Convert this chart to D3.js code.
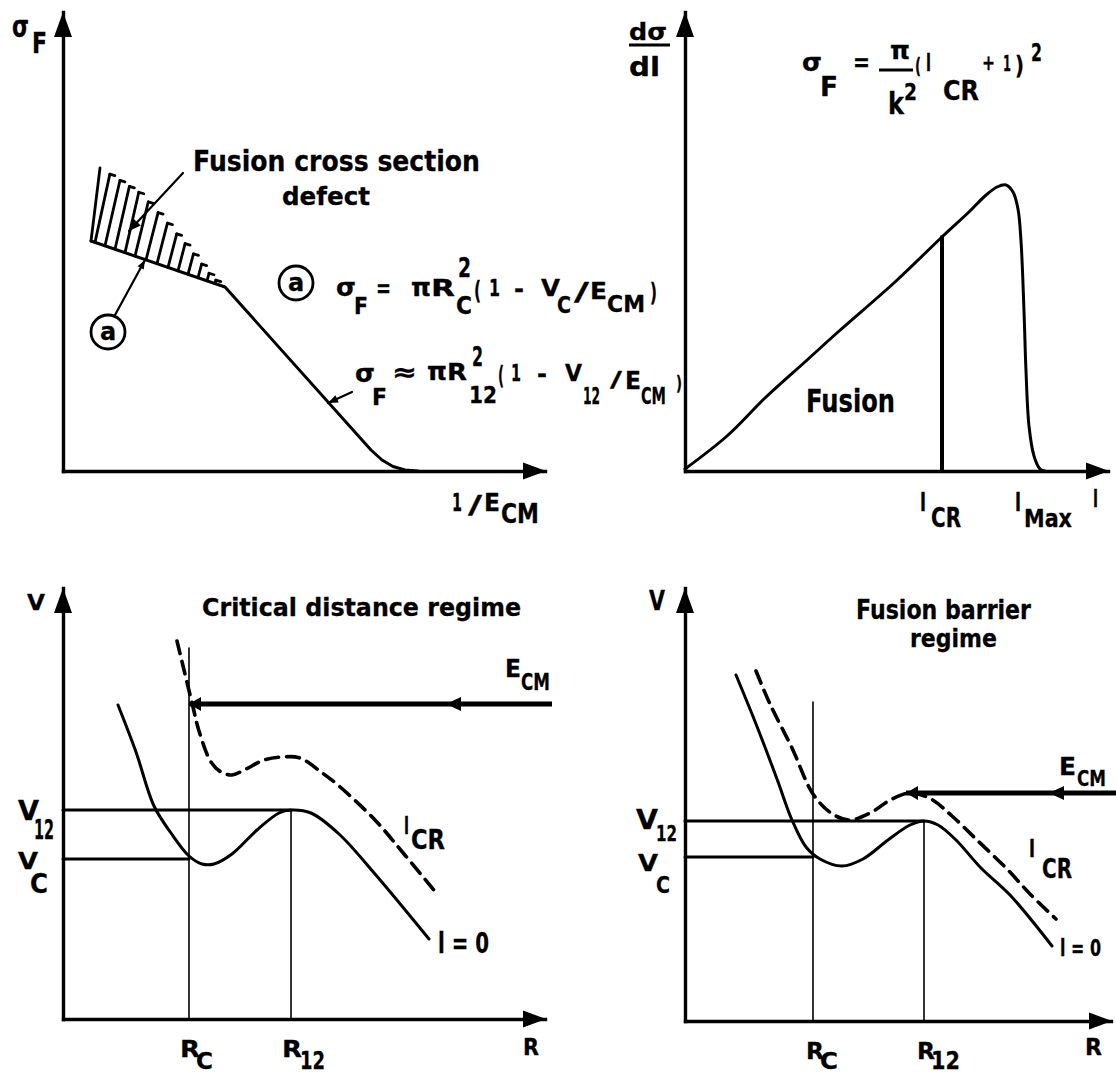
<!DOCTYPE html>
<html><head><meta charset="utf-8">
<script src="https://cdn.jsdelivr.net/npm/d3@7"></script>
<style>
body{margin:0;background:#fff}
text{font-family:"DejaVu Sans",sans-serif;font-weight:bold;fill:#000;stroke:#000;stroke-width:0.3px;stroke-linejoin:round}
</style>
</head><body>
<svg id="c" width="1116" height="1074"></svg>
<script>
// ---- Fusion cross section vs 1/E_CM (units: 10 px) ----
const sigmaF = [[2.8,23.0],[16.2,18.4],[30.8,2.1],[31.9,1.1],[33.0,0.45],[34.2,0.1],[35.5,0]];
const defectTop = [[3.7,30.3],[7.7,27.8],[10.0,25.3],[12.5,22.4],[14.9,19.4],[15.9,18.6]];
const hatchAt = [3.2,4.2,5.2,6.2,7.2,8.3,9.4,10.5,11.5,12.5,13.5,14.4,15.2];

// ---- Partial-wave distribution dσ/dl ----
const dsdl = [[0,0.2],[4.2,3.5],[8.0,7.3],[12.1,11.0],[15.3,13.9],[21.0,18.9],[25.8,23.5],[28.5,26.0],[30.0,27.5],[31.2,28.4],[32.1,28.6],[32.8,27.9],[33.3,26.2],[33.6,23.0],[33.9,16.0],[34.1,10.0],[34.4,4.5],[34.9,1.5],[35.5,0.2],[36.0,0]];
const lCritical = 25.7;

// ---- Critical distance regime: potentials V(R) ----
const critL0 = [[5.5,31.4],[7.3,26.7],[9.1,21.3],[10.8,18.6],[12.6,16.3],[13.9,15.5],[15.1,15.5],[16.9,16.5],[19.4,18.9],[21.6,20.6],[22.8,20.9],[24.8,20.6],[27.6,18.5],[31.2,14.5],[36.6,8.0]];
const critLcr = [[11.4,37.8],[12.1,34.9],[13.0,31.2],[13.6,28.8],[14.8,25.7],[15.8,24.7],[16.9,24.4],[18.3,25.0],[20.1,25.9],[21.9,26.2],[23.7,26.1],[25.8,24.7],[27.6,23.3],[31.2,19.9],[34.1,16.5],[37.5,12.4]];
const critR = [12.6, 22.8];      // R_C, R_12
const critV = [16.0, 20.9];      // V_C, V_12
const critRcTop = 37.1;
const critEcm = [31.5, 48.9, 38.3, 12.6]; // level, start, mid-arrow, end

// ---- Fusion barrier regime: potentials V(R) ----
const barL0 = [[5.1,34.6],[7.1,29.7],[9.2,24.2],[10.7,20.1],[12.1,17.4],[13.5,16.2],[15.7,15.5],[17.8,16.2],[20.3,18.1],[22.5,19.6],[23.9,20.0],[25.3,19.6],[27.1,18.1],[29.6,15.3],[32.5,12.6],[36.7,7.5]];
const barLcr = [[7.1,35.0],[8.5,31.7],[10.7,27.3],[12.8,22.7],[14.6,20.8],[16.4,20.1],[18.5,20.8],[20.7,22.2],[22.5,22.8],[24.6,22.2],[26.7,20.5],[29.2,18.1],[32.1,15.3],[34.6,12.6],[37.1,10.2]];
const barR = [12.8, 23.9];
const barV = [16.4, 20.0];
const barRcTop = 31.9;
const barEcm = [22.8, 43.1, 36.4, 22.1];

const INK = '#000';
const svg = d3.select('#c');

function frame(ox, oy, xmax, ymax){
  const x = d3.scaleLinear().domain([0,xmax]).range([ox, ox + xmax*10]);
  const y = d3.scaleLinear().domain([0,ymax]).range([oy, oy - ymax*10]);
  return {x, y, g: svg.append('g')};
}
const A = frame(63, 471, 48.2, 45.9);
const B = frame(685, 471, 42.3, 45.9);
const C = frame(63, 1019, 48.2, 43.1);
const D = frame(685, 1021, 42.6, 43.3);

function tri(g, [tx,ty], [dx,dy], len, half){
  const bx = tx - dx*len, by = ty - dy*len, nx = -dy, ny = dx;
  g.append('path').attr('d', `M${tx},${ty}L${bx+nx*half},${by+ny*half}L${bx-nx*half},${by-ny*half}Z`).attr('fill', INK);
}
function drawAxes(p){
  const gx = p.g.append('g').attr('transform', `translate(0,${p.y(0)})`)
    .call(d3.axisBottom(p.x).tickValues([]).tickSizeOuter(0));
  const gy = p.g.append('g').attr('transform', `translate(${p.x(0)},0)`)
    .call(d3.axisLeft(p.y).tickValues([]).tickSizeOuter(0));
  [gx, gy].forEach(a => a.select('.domain').attr('stroke', INK).attr('stroke-width', 3.4).attr('stroke-linecap','square'));
  const [x0, x1] = p.x.range(), [y0, y1] = p.y.range();
  tri(p.g, [x1 + 1, y0], [1, 0], 23, 8.5);
  tri(p.g, [x0, y1], [0, -1], 25, 9);
}
[A, B, C, D].forEach(drawAxes);

function curve(p, data, width, dash, type){
  const gen = d3.line().x(d => p.x(d[0])).y(d => p.y(d[1])).curve(type || d3.curveCatmullRom.alpha(0.5));
  const path = p.g.append('path').attr('d', gen(data)).attr('fill','none').attr('stroke', INK)
    .attr('stroke-width', width).attr('stroke-linejoin','round').attr('stroke-linecap','round');
  if (dash) path.attr('stroke-dasharray', dash);
  return path;
}
function seg(p, a, b, width){
  p.g.append('line').attr('x1', p.x(a[0])).attr('y1', p.y(a[1])).attr('x2', p.x(b[0])).attr('y2', p.y(b[1]))
    .attr('stroke', INK).attr('stroke-width', width).attr('stroke-linecap','round');
}
function leader(p, from, to, len, half){
  seg(p, from, to, 2.2);
  const fx = p.x(from[0]), fy = p.y(from[1]), tx = p.x(to[0]), ty = p.y(to[1]);
  const L = Math.hypot(tx-fx, ty-fy);
  tri(p.g, [tx, ty], [(tx-fx)/L, (ty-fy)/L], len, half);
}
function interp(data, u){
  if (u <= data[0][0]) return data[0][1];
  for (let i = 1; i < data.length; i++){
    if (u <= data[i][0]){
      const [x0,y0] = data[i-1], [x1,y1] = data[i];
      return y0 + (y1-y0)*(u-x0)/(x1-x0);
    }
  }
  return data[data.length-1][1];
}

const RATIO = {c:0.73, x:0.55, a:0.76};
function T(g, s, x0, x1, top, base, kind){
  const fs = (base - top) / RATIO[kind || 'c'];
  g.append('text').attr('x', x0).attr('y', base).attr('font-size', fs.toFixed(1))
    .attr('textLength', x1 - x0).attr('lengthAdjust','spacingAndGlyphs').text(s);
}
function S(g, s, x0, x1, base, fs){
  g.append('text').attr('x', x0).attr('y', base).attr('font-size', fs)
    .attr('textLength', x1 - x0).attr('lengthAdjust','spacingAndGlyphs').text(s);
}
function circled(g, cx, cy, r, s){
  g.append('circle').attr('cx', cx).attr('cy', cy).attr('r', r).attr('fill','none').attr('stroke', INK).attr('stroke-width', 2.8);
  g.append('text').attr('x', cx).attr('y', cy + 8).attr('font-size', 24).attr('text-anchor','middle').text(s);
}

// ================= σ_F versus 1/E_CM =================
curve(A, sigmaF, 3, null, d3.curveLinear);
hatchAt.forEach(u => {
  const vb = interp(sigmaF, u);
  const s = 0.2 * (interp(defectTop, u) - vb);
  const vt = interp(defectTop, u + s);
  seg(A, [u, vb], [u + s, vt], 2.8);
  seg(A, [u + s, vt], [u + s + 0.5, vt - 0.15], 2.8);
});
seg(A, defectTop[0], sigmaF[0], 2.8);
leader(A, [12.0, 29.8], [6.6, 24.0], 12, 5);
leader(A, [5.2, 15.6], [8.2, 21.1], 9, 3.5);
leader(A, [28.9, 7.9], [26.5, 6.8], 10, 4);
circled(A.g, 108, 332, 17, 'a');
circled(A.g, 296, 283, 17, 'a');

T(A.g, 'σ', 12, 29, 20, 37, 'x');
T(A.g, 'F', 32, 47, 32, 53);
T(A.g, 'Fusion cross section', 193, 480, 150, 171);
T(A.g, 'defect', 282, 370, 186, 205, 'a');
T(A.g, '1', 452, 462, 493, 511); S(A.g, '/', 468, 482, 513, 24);
T(A.g, 'E', 484, 500, 493, 511); T(A.g, 'CM', 501, 539, 504, 523);

// σ_F = πR_C²(1 - V_C/E_CM)
T(A.g, 'σ', 336, 356, 282, 296, 'x'); T(A.g, 'F', 354, 368, 297, 314);
S(A.g, '=', 376, 391, 297, 24);
T(A.g, 'π', 411, 431, 282, 296, 'x'); T(A.g, 'R', 431, 455, 279, 296);
T(A.g, '2', 458, 471, 258, 277); T(A.g, 'C', 456, 472, 296, 314);
S(A.g, '(', 474, 481, 299, 24); T(A.g, '1', 489, 500, 279, 296);
S(A.g, '-', 514, 524, 297, 24); T(A.g, 'V', 541, 560, 279, 296);
T(A.g, 'C', 557, 571, 296, 313); S(A.g, '/', 574, 589, 300, 24);
T(A.g, 'E', 590, 607, 282, 299); T(A.g, 'CM', 607, 645, 295, 312);
S(A.g, ')', 650, 657, 301, 24);

// σ_F ≈ πR_12²(1 - V_12/E_CM)
T(A.g, 'σ', 355, 375, 368, 382, 'x'); T(A.g, 'F', 372, 387, 388, 405);
S(A.g, '≈', 392, 417, 381, 26);
T(A.g, 'π', 427, 447, 366, 380, 'x'); T(A.g, 'R', 447, 467, 363, 380);
T(A.g, '2', 472, 483, 347, 366); T(A.g, '12', 469, 497, 386, 403);
S(A.g, '(', 498, 504, 384, 24); T(A.g, '1', 511, 521, 364, 381);
S(A.g, '-', 537, 547, 382, 24); T(A.g, 'V', 565, 582, 364, 381);
T(A.g, '12', 583, 600, 387, 404); S(A.g, '/', 610, 622, 387, 22);
T(A.g, 'E', 625, 641, 371, 389); T(A.g, 'CM', 641, 666, 387, 404);
S(A.g, ')', 676, 682, 390, 19);

// ================= dσ/dl versus l =================
curve(B, dsdl, 3);
seg(B, [lCritical, 0], [lCritical, interp(dsdl, lCritical)], 4);

T(B.g, 'dσ', 629, 667, 22, 40, 'a');
B.g.append('line').attr('x1', 629).attr('x2', 670).attr('y1', 45).attr('y2', 45).attr('stroke', INK).attr('stroke-width', 3);
T(B.g, 'dl', 629, 660, 56, 76, 'a');

T(B.g, 'σ', 802, 822, 57, 71, 'x'); T(B.g, 'F', 820, 838, 77, 96);
S(B.g, '=', 853, 870, 71, 24);
T(B.g, 'π', 890, 910, 45, 59, 'x');
B.g.append('line').attr('x1', 879).attr('x2', 913).attr('y1', 70).attr('y2', 70).attr('stroke', INK).attr('stroke-width', 3);
T(B.g, 'k', 888, 904, 91, 114, 'a'); T(B.g, '2', 904, 917, 83, 100);
S(B.g, '(', 915, 921, 73, 22); T(B.g, 'l', 926, 931, 54, 71, 'a');
T(B.g, 'CR', 943, 979, 80, 100);
S(B.g, '+', 982, 995, 70, 22); T(B.g, '1', 1003, 1011, 55, 71);
S(B.g, ')', 1015, 1024, 74, 24); T(B.g, '2', 1031, 1042, 43, 61);

T(B.g, 'Fusion', 806, 895, 389, 412);
T(B.g, 'l', 920, 926, 492, 511, 'a'); T(B.g, 'CR', 931, 961, 508, 527);
T(B.g, 'l', 1015, 1021, 492, 511, 'a'); T(B.g, 'Max', 1024, 1072, 509, 527);
T(B.g, 'l', 1093, 1098, 489, 507, 'a');

// ================= potentials: shared drawing =================
function regime(p, l0, lcr, R, V, rcTop, ecm){
  seg(p, [R[0], 0], [R[0], rcTop], 1.6);
  seg(p, [R[1], 0], [R[1], V[1]], 1.6);
  seg(p, [0, V[1]], [R[1], V[1]], 3);
  seg(p, [0, V[0]], [R[0], V[0]], 3);
  curve(p, l0, 3);
  curve(p, lcr, 3.6, '13 8');
  p.g.append('line').attr('x1', p.x(ecm[1])).attr('x2', p.x(ecm[3])).attr('y1', p.y(ecm[0])).attr('y2', p.y(ecm[0]))
    .attr('stroke', INK).attr('stroke-width', 5);
  tri(p.g, [p.x(ecm[2]), p.y(ecm[0])], [-1, 0], 15, 7);
  tri(p.g, [p.x(ecm[3]), p.y(ecm[0])], [-1, 0], 12, 7);
}
regime(C, critL0, critLcr, critR, critV, critRcTop, critEcm);
regime(D, barL0, barLcr, barR, barV, barRcTop, barEcm);

// Critical distance regime labels
T(C.g, 'V', 27, 45, 595, 610);
T(C.g, 'Critical distance regime', 202, 521, 598, 616);
T(C.g, 'E', 505, 521, 659, 677); T(C.g, 'CM', 521, 550, 673, 690);
T(C.g, 'l', 404, 409, 816, 834, 'a'); T(C.g, 'CR', 411, 445, 830, 849);
T(C.g, 'l = 0', 438, 489, 932, 953);
T(C.g, 'V', 18, 39, 801, 820); T(C.g, '12', 34, 54, 820, 839);
T(C.g, 'V', 18, 38, 852, 869); T(C.g, 'C', 30, 48, 873, 893);
T(C.g, 'R', 180, 200, 1040, 1057); T(C.g, 'C', 196, 213, 1052, 1069);
T(C.g, 'R', 282, 302, 1040, 1057); T(C.g, '12', 300, 325, 1051, 1069);
T(C.g, 'R', 523, 539, 1038, 1055);

// Fusion barrier regime labels
T(D.g, 'V', 649, 665, 591, 610);
T(D.g, 'Fusion barrier', 856, 1031, 600, 619);
T(D.g, 'regime', 910, 997, 633, 647, 'x');
T(D.g, 'E', 1059, 1076, 757, 775); T(D.g, 'CM', 1077, 1106, 770, 786);
T(D.g, 'l', 1029, 1035, 840, 857, 'a'); T(D.g, 'CR', 1042, 1072, 859, 878);
T(D.g, 'l = 0', 1060, 1101, 939, 956);
T(D.g, 'V', 636, 658, 810, 829); T(D.g, '12', 656, 677, 826, 841);
T(D.g, 'V', 638, 658, 854, 871); T(D.g, 'C', 656, 670, 876, 893);
T(D.g, 'R', 806, 824, 1042, 1059); T(D.g, 'C', 820, 838, 1052, 1069);
T(D.g, 'R', 917, 935, 1042, 1059); T(D.g, '12', 931, 960, 1051, 1069);
T(D.g, 'R', 1085, 1102, 1038, 1055);
</script>
</body></html>
